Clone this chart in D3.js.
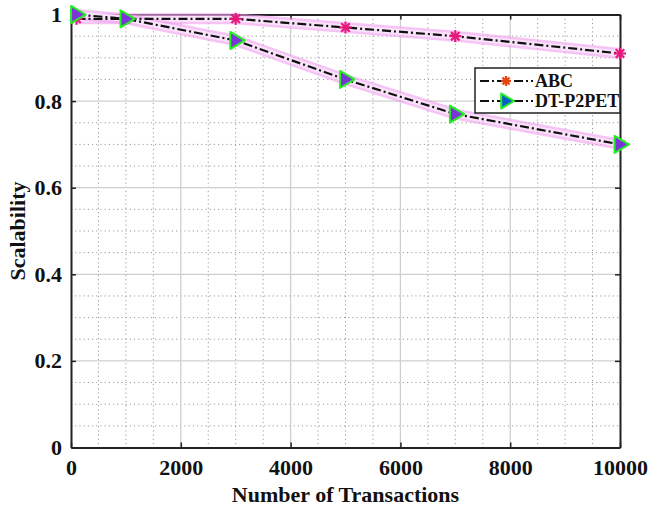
<!DOCTYPE html>
<html>
<head>
<meta charset="utf-8">
<script src="https://cdn.jsdelivr.net/npm/d3@7"></script>
<style>
  body { margin: 0; background: #fff; }
  text { font-family: "Liberation Serif", "Times New Roman", serif; font-weight: bold; }
</style>
</head>
<body>
<svg id="chart" width="650" height="510"></svg>
<script>
// chart data
const transactions = [100, 1000, 3000, 5000, 7000, 10000];
const abcValues = [0.99, 0.99, 0.99, 0.97, 0.95, 0.91];
const dtValues = [1.0, 0.99, 0.94, 0.85, 0.77, 0.70];
const xTicks = [0, 2000, 4000, 6000, 8000, 10000];
const yTicks = [0, 0.2, 0.4, 0.6, 0.8, 1];
const seriesNames = ["ABC", "DT-P2PET"];

const margin = {top: 14.5, right: 30, bottom: 62.5, left: 71};
const width = 650 - margin.left - margin.right;
const height = 510 - margin.top - margin.bottom;

const svg = d3.select("#chart");
const g = svg.append("g").attr("transform", `translate(${margin.left},${margin.top})`);

const x = d3.scaleLinear().domain([0, 10000]).range([0, width]);
const y = d3.scaleLinear().domain([0, 1]).range([height, 0]);

// minor dotted grid
const xMinor = d3.range(0, 10001, 500).filter(v => v % 2000 !== 0);
const yMinor = d3.range(0, 21).map(i => i * 0.05).filter((v, i) => i % 4 !== 0);
g.selectAll(".xminor").data(xMinor).join("line")
  .attr("x1", d => x(d)).attr("x2", d => x(d)).attr("y1", 0).attr("y2", height)
  .attr("stroke", "#9a9a9a").attr("stroke-width", 1).attr("stroke-dasharray", "1.2,3");
g.selectAll(".yminor").data(yMinor).join("line")
  .attr("y1", d => y(d)).attr("y2", d => y(d)).attr("x1", 0).attr("x2", width)
  .attr("stroke", "#9a9a9a").attr("stroke-width", 1).attr("stroke-dasharray", "1.2,3");

// major grid
g.selectAll(".xmajor").data(xTicks.slice(1, -1)).join("line")
  .attr("x1", d => x(d)).attr("x2", d => x(d)).attr("y1", 0).attr("y2", height)
  .attr("stroke", "#cfcfcf").attr("stroke-width", 1.3);
g.selectAll(".ymajor").data(yTicks.slice(1, -1)).join("line")
  .attr("y1", d => y(d)).attr("y2", d => y(d)).attr("x1", 0).attr("x2", width)
  .attr("stroke", "#cfcfcf").attr("stroke-width", 1.3);

// axes with inward ticks
const xAxis = g.append("g").attr("transform", `translate(0,${height})`)
  .call(d3.axisBottom(x).tickValues(xTicks).tickSize(-5).tickSizeOuter(0).tickPadding(12).tickFormat(d3.format("d")));
const xAxisTop = g.append("g")
  .call(d3.axisTop(x).tickValues(xTicks).tickSize(-5).tickSizeOuter(0).tickFormat(""));
const yAxis = g.append("g")
  .call(d3.axisLeft(y).tickValues(yTicks).tickSize(-5).tickSizeOuter(0).tickPadding(9).tickFormat(d => d === 0 || d === 1 ? d3.format("d")(d) : d3.format(".1f")(d)));
const yAxisRight = g.append("g").attr("transform", `translate(${width},0)`)
  .call(d3.axisRight(y).tickValues(yTicks).tickSize(-5).tickSizeOuter(0).tickFormat(""));

[xAxis, xAxisTop, yAxis, yAxisRight].forEach(a => {
  a.select(".domain").attr("stroke", "#222").attr("stroke-width", 2);
  a.selectAll(".tick line").attr("stroke", "#222").attr("stroke-width", 1.5);
  a.selectAll(".tick text").attr("font-size", 22).attr("fill", "#111")
    .style("font-family", "'Liberation Serif', serif").style("font-weight", "bold");
});
xAxis.selectAll(".tick text").attr("dy", "0.7em");

// series
const line = d3.line().x(d => x(d[0])).y(d => y(d[1]));
const series = [
  {name: seriesNames[0], pts: transactions.map((t, i) => [t, abcValues[i]])},
  {name: seriesNames[1], pts: transactions.map((t, i) => [t, dtValues[i]])}
];

// pink highlight band
series.forEach(s => {
  g.append("path").datum(s.pts).attr("d", line).attr("fill", "none")
    .attr("stroke", "#ee9cee").attr("stroke-opacity", 0.6).attr("stroke-width", 11).attr("stroke-linejoin", "round");
  g.append("path").datum(s.pts).attr("d", line).attr("fill", "none")
    .attr("stroke", "#fbe2fb").attr("stroke-width", 6).attr("stroke-linejoin", "round");
});
series.forEach(s => {
  g.append("path").datum(s.pts).attr("d", line).attr("fill", "none")
    .attr("stroke", "#111").attr("stroke-width", 2.2).attr("stroke-dasharray", "9,3,2,3");
});

function star(sel, cx, cy, r, color) {
  const grp = sel.append("g").attr("transform", `translate(${cx},${cy})`);
  for (let k = 0; k < 4; k++) {
    const a = k * Math.PI / 4;
    grp.append("line")
      .attr("x1", -r * Math.cos(a)).attr("y1", -r * Math.sin(a))
      .attr("x2", r * Math.cos(a)).attr("y2", r * Math.sin(a))
      .attr("stroke", color).attr("stroke-width", 2.2);
  }
}
function triangle(sel, cx, cy, r, fill) {
  sel.append("path")
    .attr("d", `M${cx + r},${cy} L${cx - r * 0.6},${cy - r * 0.95} L${cx - r * 0.6},${cy + r * 0.95} Z`)
    .attr("fill", fill).attr("stroke", "#22ee22").attr("stroke-width", 2).attr("stroke-linejoin", "round");
}

series[0].pts.forEach(p => star(g, x(p[0]), y(p[1]), 6, "#e8177c"));
series[1].pts.forEach(p => triangle(g, x(p[0]), y(p[1]), 9, "#7a34d8"));

// legend
const lg = svg.append("g").attr("transform", "translate(475,68)");
lg.append("rect").attr("width", 145).attr("height", 45).attr("fill", "#fff")
  .attr("stroke", "#222").attr("stroke-width", 1.5);
[0, 1].forEach(i => {
  const yy = 13 + i * 20;
  lg.append("line").attr("x1", 5).attr("x2", 58).attr("y1", yy).attr("y2", yy)
    .attr("stroke", "#111").attr("stroke-width", 2).attr("stroke-dasharray", "9,3,2,3");
  if (i === 0) star(lg, 31, yy, 5, "#e8420c");
  else triangle(lg, 31, yy, 8, "#0a5fc8");
  lg.append("text").attr("x", 60).attr("y", yy).attr("dy", "0.35em")
    .attr("font-size", 18).attr("fill", "#111").text(seriesNames[i]);
});

// axis labels
svg.append("text").attr("x", margin.left + width / 2).attr("y", 502)
  .attr("text-anchor", "middle").attr("font-size", 22).attr("fill", "#111")
  .text("Number of Transactions");
svg.append("text").attr("transform", `translate(25,${margin.top + height / 2}) rotate(-90)`)
  .attr("text-anchor", "middle").attr("font-size", 22).attr("fill", "#111")
  .text("Scalability");
</script>
</body>
</html>
